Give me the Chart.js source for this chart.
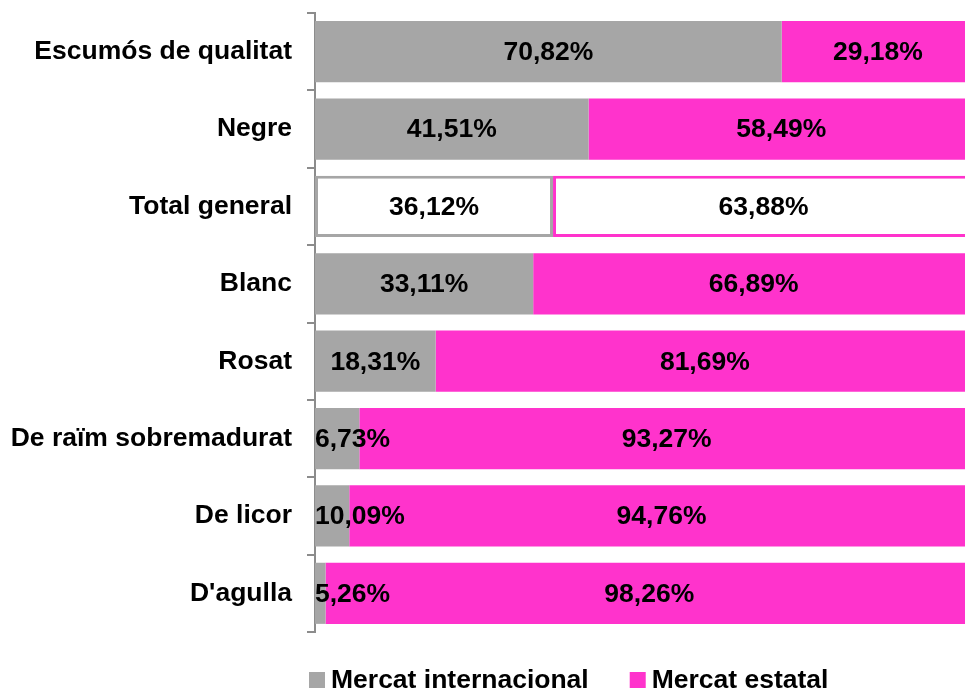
<!DOCTYPE html>
<html lang="ca">
<head>
<meta charset="utf-8">
<title>Mercat internacional / Mercat estatal</title>
<script src="https://cdn.jsdelivr.net/npm/chart.js@4/dist/chart.umd.min.js"></script>
<style>
  html, body { margin: 0; padding: 0; background: #ffffff; overflow: hidden; }
  #wrap { width: 974px; height: 692px; }
</style>
</head>
<body>
<div id="wrap"><canvas id="mercatChart" width="974" height="692"></canvas></div>
<script>
// Datos del gráfico
const categorias = ['Escumós de qualitat', 'Negre', 'Total general', 'Blanc', 'Rosat', 'De raïm sobremadurat', 'De licor', "D'agulla"];
const internacional = [70.82, 41.51, 36.12, 33.11, 18.31, 6.73, 5.2, 1.6];
const estatal = [29.18, 58.49, 63.88, 66.89, 81.69, 93.27, 94.76, 98.26];
const etiquetasInternacional = ['70,82%', '41,51%', '36,12%', '33,11%', '18,31%', '6,73%', '10,09%', '5,26%'];
const etiquetasEstatal = ['29,18%', '58,49%', '63,88%', '66,89%', '81,69%', '93,27%', '94,76%', '98,26%'];
const series = ['Mercat internacional', 'Mercat estatal'];

const GRIS = '#A6A6A6';
const ROSA = '#FF33CC';
const FUENTE = '"Liberation Sans", Arial, sans-serif';
const TAM = 26.5;

// Fila "Total general" sin relleno, solo con borde
const filaTotal = categorias.indexOf('Total general');

// Etiquetas de valor centradas en cada segmento
const etiquetasPlugin = {
  id: 'etiquetas',
  afterDatasetsDraw(chart) {
    const ctx = chart.ctx;
    const area = chart.chartArea;
    const textos = [etiquetasInternacional, etiquetasEstatal];
    ctx.save();
    ctx.font = 'bold ' + TAM + 'px ' + FUENTE;
    ctx.fillStyle = '#000000';
    ctx.textBaseline = 'middle';
    ctx.textAlign = 'left';
    chart.data.datasets.forEach((ds, i) => {
      chart.getDatasetMeta(i).data.forEach((bar, j) => {
        const txt = textos[i][j];
        const w = ctx.measureText(txt).width;
        let x = (bar.x + bar.base) / 2 - w / 2;
        if (x < area.left) x = area.left;
        ctx.fillText(txt, x, bar.y + 1);
      });
    });
    ctx.restore();
  }
};

// Leyenda inferior dibujada a mano
const leyendaPlugin = {
  id: 'leyenda',
  afterDraw(chart) {
    const ctx = chart.ctx;
    const area = chart.chartArea;
    const y = 680;
    let x = area.left - 6;
    ctx.save();
    ctx.font = 'bold ' + TAM + 'px ' + FUENTE;
    ctx.textBaseline = 'middle';
    chart.data.datasets.forEach((ds) => {
      ctx.fillStyle = ds.legendColor;
      ctx.fillRect(x, y - 8, 16, 16);
      ctx.fillStyle = '#000000';
      ctx.fillText(ds.label, x + 22, y + 1);
      x += 22 + ctx.measureText(ds.label).width + 41;
    });
    ctx.restore();
  }
};

function initializeChart() {
  const canvas = document.getElementById('mercatChart');
  if (!canvas) {
    console.error('No se encontró el canvas');
    return null;
  }
  const ctx = canvas.getContext('2d');

  return new Chart(ctx, {
    type: 'bar',
    data: {
      labels: categorias,
      datasets: [{
        label: series[0],
        data: internacional,
        legendColor: GRIS,
        backgroundColor: categorias.map((c, i) => i === filaTotal ? '#FFFFFF' : GRIS),
        borderColor: GRIS,
        borderWidth: categorias.map((c, i) => i === filaTotal ? 3 : 0),
        borderSkipped: false
      }, {
        label: series[1],
        data: estatal,
        legendColor: ROSA,
        backgroundColor: categorias.map((c, i) => i === filaTotal ? '#FFFFFF' : ROSA),
        borderColor: ROSA,
        borderWidth: categorias.map((c, i) => i === filaTotal ? 3 : 0),
        borderSkipped: false
      }]
    },
    options: {
      indexAxis: 'y',
      responsive: false,
      animation: false,
      datasets: {
        bar: { categoryPercentage: 1, barPercentage: 0.79 }
      },
      layout: {
        padding: { left: 0, right: 0, top: 13, bottom: 60 }
      },
      plugins: {
        legend: { display: false },
        tooltip: { enabled: false }
      },
      scales: {
        x: {
          stacked: true,
          min: 0,
          max: 100,
          display: false
        },
        y: {
          stacked: true,
          afterFit: function(scale) {
            scale.width = 315;
            scale.paddingTop = 0;
            scale.paddingBottom = 0;
          },
          border: { display: true, color: '#8C8C8C', width: 2 },
          grid: {
            offset: true,
            drawOnChartArea: false,
            drawTicks: true,
            tickLength: 8,
            color: '#8C8C8C',
            lineWidth: 2
          },
          ticks: {
            padding: 15,
            color: '#000000',
            font: { family: FUENTE, size: TAM, weight: 'bold' }
          }
        }
      }
    },
    plugins: [etiquetasPlugin, leyendaPlugin]
  });
}

initializeChart();
</script>
</body>
</html>
